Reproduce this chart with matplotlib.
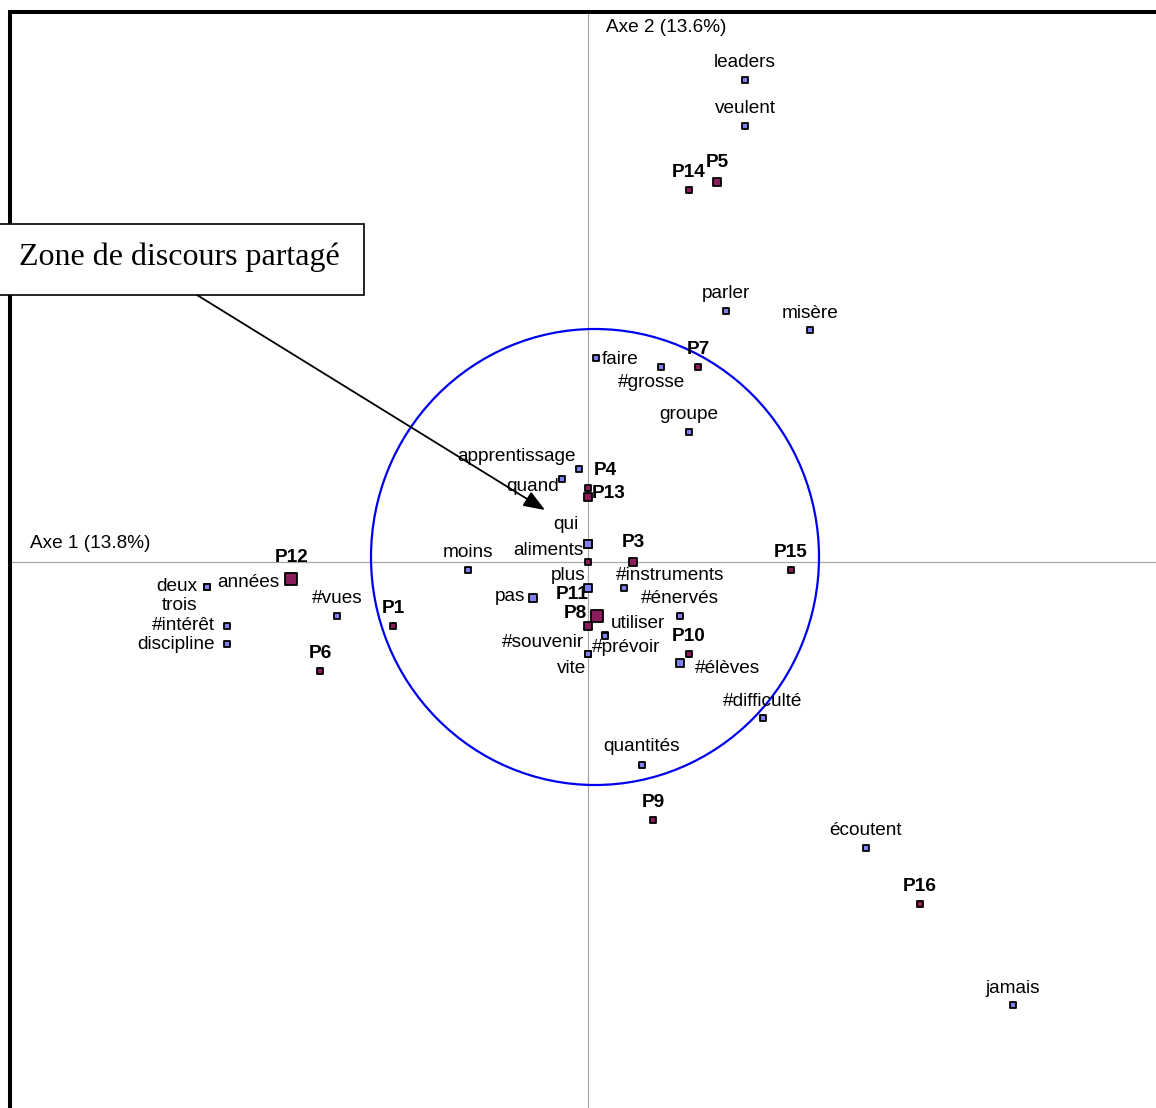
import matplotlib.pyplot as plt
from matplotlib.patches import Ellipse, Rectangle

# coordonnées factorielles (axe 1, axe 2)
mots = ["leaders", "veulent", "parler", "misère", "faire", "#grosse", "groupe",
        "apprentissage", "quand", "qui", "aliments", "moins", "plus",
        "#instruments", "#énervés", "utiliser", "#prévoir", "#souvenir", "vite",
        "pas", "#élèves", "#difficulté", "quantités", "écoutent", "jamais",
        "deux", "trois", "#intérêt", "discipline", "années", "#vues"]
mots_x = [0.785, 0.785, 0.69, 1.11, 0.04, 0.365, 0.505,
          -0.045, -0.13, 0.0, 0.0, -0.6, 0.0,
          0.18, 0.46, 0.085, 0.085, 0.0, 0.0,
          -0.275, 0.46, 0.875, 0.27, 1.39, 2.125,
          -1.905, -1.905, -1.805, -1.805, -1.485, -1.255]
mots_y = [2.41, 2.18, 1.255, 1.16, 1.02, 0.975, 0.65,
          0.465, 0.415, 0.09, 0.09, -0.04, -0.13,
          -0.13, -0.27, -0.365, -0.37, -0.46, -0.46,
          -0.18, -0.505, -0.78, -1.015, -1.43, -2.215,
          -0.125, -0.125, -0.32, -0.41, -0.085, -0.27]
mots_poids = [1, 1, 1, 1, 1, 1, 1,
              1, 1, 2, 2, 1, 2,
              1, 1, 1, 1, 1, 1,
              2, 2, 1, 1, 1, 1,
              1, 1, 1, 1, 1, 1]

indiv = ["P1", "", "P3", "P4", "P5", "P6", "P7", "P8", "P9", "P10",
         "P11", "P12", "P13", "P14", "P15", "P16"]
indiv_x = [-0.975, 0.0, 0.225, 0.0, 0.645, -1.34, 0.55, 0.045, 0.325, 0.505,
           0.0, -1.485, 0.0, 0.505, 1.015, 1.66]
indiv_y = [-0.32, -0.32, 0.0, 0.37, 1.9, -0.545, 0.975, -0.27, -1.29, -0.46,
           0.0, -0.085, 0.325, 1.86, -0.04, -1.71]
indiv_poids = [1, 2, 2, 1, 2, 1, 1, 3, 1, 1,
               1, 3, 2, 1, 1, 1]

axe1 = "Axe 1 (13.8%)"
axe2 = "Axe 2 (13.6%)"
zone = "Zone de discours partagé"

# placement des étiquettes (décalage en pixels, alignement)
decal_mots = {
    "faire": (6, 1, "left"), "#grosse": (-9, -13), "misère": (0, 19),
    "apprentissage": (-63, 15), "quand": (-29, -5), "qui": (-22, 22),
    "aliments": (-5, -4, "right"), "plus": (-20, 15), "#instruments": (46, 15),
    "utiliser": (33, 14), "#prévoir": (21, -9), "#souvenir": (-45, 14),
    "vite": (-16, -12), "pas": (-23, 4), "#élèves": (47, -3),
    "#difficulté": (0, 19), "quantités": (0, 21), "jamais": (0, 19),
    "deux": (-30, 3), "trois": (-27, -16), "#intérêt": (-44, 3),
    "discipline": (-51, 2), "années": (-43, -1),
}
decal_indiv = {
    "P3": (0, 22), "P4": (17, 20), "P5": (0, 22), "P8": (-22, 5),
    "P11": (-16, -30), "P12": (1, 24), "P13": (21, 6),
}
tailles = {1: 13, 2: 34, 3: 74}
dy_txt = -2.5  # correction verticale du centrage du texte

plt.rcParams['font.family'] = ['Liberation Sans', 'DejaVu Sans']

fig = plt.figure(figsize=(11.56, 11.08), dpi=100)
ax = fig.add_axes([0, 0, 1, 1])
ax.set_xlim(-2.94, 2.84)
ax.set_ylim(-2.73, 2.81)
ax.axis('off')

# cadre (haut et gauche) et axes
ax.plot([-2.89, 2.84], [2.75, 2.75], color='black', lw=2.9, solid_capstyle='butt', zorder=5)
ax.plot([-2.89, -2.89], [2.76, -2.73], color='black', lw=2.9, solid_capstyle='butt', zorder=5)
ax.plot([-2.89, 2.84], [0, 0], color='#a8a8a8', lw=0.9, zorder=1)
ax.plot([0, 0], [2.75, -2.73], color='#a8a8a8', lw=0.9, zorder=1)
ax.text(0.09, 2.675, axe2, fontsize=13.7, ha='left', va='center')
ax.text(-2.79, 0.095, axe1, fontsize=13.7, ha='left', va='center')

# cercle de la zone partagée
ax.add_patch(Ellipse((0.035, 0.025), 2.24, 2.28, fill=False, edgecolor='#0000ee', lw=1.6, zorder=2))

ax.scatter(mots_x, mots_y, s=[tailles[p] for p in mots_poids], marker='s',
           facecolor='#8080f0', edgecolor='black', linewidths=1.3, zorder=3)
ax.scatter(indiv_x, indiv_y, s=[tailles[p] for p in indiv_poids], marker='s',
           facecolor='#8c1c5a', edgecolor='black', linewidths=1.3, zorder=4)

for m, x, y in zip(mots, mots_x, mots_y):
    d = decal_mots.get(m, (0, 20))
    ha = d[2] if len(d) > 2 else 'center'
    ax.annotate(m, (x, y), xytext=(d[0], d[1] + dy_txt), textcoords='offset pixels',
                ha=ha, va='center', fontsize=13.7, zorder=6)

for p, x, y in zip(indiv, indiv_x, indiv_y):
    if not p:
        continue
    d = decal_indiv.get(p, (0, 20))
    ax.annotate(p, (x, y), xytext=(d[0], d[1] + dy_txt), textcoords='offset pixels',
                ha='center', va='center', fontsize=13.7, fontweight='bold', zorder=6)

# encadré et flèche
ax.add_patch(Rectangle((-2.965, 1.335), 1.845, 0.355, facecolor='white',
                       edgecolor='black', lw=1.2, zorder=7))
ax.text(-2.045, 1.525, zone, family='Liberation Serif', fontsize=23,
        ha='center', va='center', zorder=8)
ax.annotate("", xy=(-0.215, 0.26), xytext=(-1.955, 1.335),
            arrowprops=dict(arrowstyle='-|>,head_length=1.3,head_width=0.5',
                            color='black', lw=1.3, shrinkA=0, shrinkB=0), zorder=6)

fig.savefig("out.png", dpi=100)
